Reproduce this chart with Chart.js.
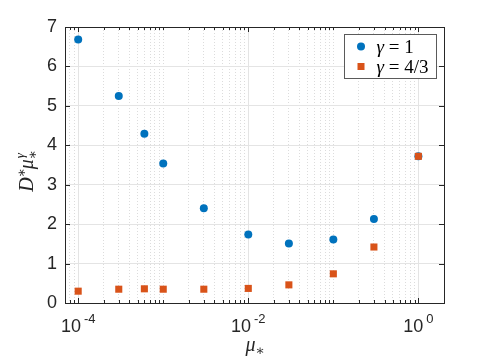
<!DOCTYPE html>
<html>
<head>
<meta charset="utf-8">
<script src="https://cdn.jsdelivr.net/npm/chart.js@4.4.1/dist/chart.umd.min.js"></script>
<style>
  body { margin: 0; background: #fff; }
  canvas { display: block; }
</style>
</head>
<body>
<canvas id="myChart" width="491" height="362"></canvas>
<script>
// values
var muValues = [1e-4, 3e-4, 6e-4, 1e-3, 3e-3, 1e-2, 3e-2, 1e-1, 3e-1, 1];
var gammaOne = [6.68, 5.25, 4.29, 3.54, 2.40, 1.74, 1.51, 1.61, 2.13, 3.72];
var gammaFourThirds = [0.30, 0.35, 0.36, 0.35, 0.35, 0.37, 0.46, 0.74, 1.42, 3.72];
var seriesNames = ['\u03b3 = 1', '\u03b3 = 4/3'];
var xMajorTicks = [1e-4, 1e-2, 1];
var xTickExponents = ['-4', '-2', '0'];
var yTicks = [0, 1, 2, 3, 4, 5, 6, 7];

var axisColor = '#262626';
var sansFont = "'Liberation Sans', Arial, sans-serif";
var serifFont = "'Liberation Serif', 'DejaVu Serif', serif";

function isMajor(v) {
    for (var i = 0; i < xMajorTicks.length; i++) {
        if (Math.abs(Math.log10(v) - Math.log10(xMajorTicks[i])) < 1e-6) return true;
    }
    return false;
}

function toPoints(xs, ys) {
    var pts = [];
    for (var i = 0; i < xs.length; i++) pts.push({x: xs[i], y: ys[i]});
    return pts;
}

// ticks, box, tick labels, axis titles and legend, MATLAB style
var decor = {
    id: 'decor',
    afterDatasetsDraw: function(chart) {
        var ctx = chart.ctx;
        var a = chart.chartArea;
        var xs = chart.scales.x, ys = chart.scales.y;
        ctx.save();

        // box
        ctx.strokeStyle = axisColor;
        ctx.lineWidth = 1;
        ctx.strokeRect(Math.round(a.left) + 0.5, Math.round(a.top) + 0.5,
            Math.round(a.right - a.left), Math.round(a.bottom - a.top));

        // inward ticks
        ctx.beginPath();
        xs.ticks.forEach(function(t) {
            var px = Math.round(xs.getPixelForValue(t.value)) + 0.5;
            var len = isMajor(t.value) ? 5 : 3;
            ctx.moveTo(px, a.bottom); ctx.lineTo(px, a.bottom - len);
            ctx.moveTo(px, a.top); ctx.lineTo(px, a.top + len);
        });
        yTicks.forEach(function(v) {
            var py = Math.round(ys.getPixelForValue(v)) + 0.5;
            ctx.moveTo(a.left, py); ctx.lineTo(a.left + 5, py);
            ctx.moveTo(a.right, py); ctx.lineTo(a.right - 5, py);
        });
        ctx.stroke();

        // x tick labels 10^n
        ctx.fillStyle = axisColor;
        ctx.textBaseline = 'alphabetic';
        ctx.textAlign = 'left';
        for (var i = 0; i < xMajorTicks.length; i++) {
            var px = xs.getPixelForValue(xMajorTicks[i]);
            ctx.font = '18px ' + sansFont;
            var wb = ctx.measureText('10').width;
            ctx.font = '13px ' + sansFont;
            var we = ctx.measureText(xTickExponents[i]).width;
            var x0 = px - (wb + 3 + we) / 2;
            ctx.font = '18px ' + sansFont;
            ctx.fillText('10', x0, a.bottom + 29);
            ctx.font = '13px ' + sansFont;
            ctx.fillText(xTickExponents[i], x0 + wb + 3, a.bottom + 20);
        }

        // x title: mu_*
        var cx = (a.left + a.right) / 2;
        ctx.font = 'italic 20px ' + serifFont;
        var wm = ctx.measureText('\u03bc').width;
        ctx.fillText('\u03bc', cx - wm / 2 - 4, a.bottom + 48);
        ctx.font = '14px ' + serifFont;
        ctx.fillText('\u2217', cx + wm / 2 - 4, a.bottom + 52);

        // y title: D^* mu_*^gamma
        ctx.save();
        ctx.translate(33, (a.top + a.bottom) / 2 + 6);
        ctx.rotate(-Math.PI / 2);
        ctx.font = 'italic 20px ' + serifFont;
        var wd = ctx.measureText('D').width;
        var total = wd + 8 + wm + 9;
        var x = -total / 2;
        ctx.fillText('D', x, 0);
        x += wd;
        ctx.font = '14px ' + serifFont;
        ctx.fillText('\u2217', x, -7);
        x += 8;
        ctx.font = 'italic 20px ' + serifFont;
        ctx.fillText('\u03bc', x, 0);
        x += wm;
        ctx.font = '14px ' + serifFont;
        ctx.fillText('\u2217', x, 4);
        ctx.font = 'italic 13px ' + serifFont;
        ctx.fillText('\u03b3', x + 1, -9);
        ctx.restore();

        // legend
        var lx = 344.5, ly = 34.5, lw = 92, lh = 44;
        ctx.fillStyle = '#fff';
        ctx.fillRect(lx, ly, lw, lh);
        ctx.strokeStyle = '#5a5a5a';
        ctx.strokeRect(lx, ly, lw, lh);
        chart.data.datasets.forEach(function(ds, k) {
            var rowY = ly + 12 + k * 20;
            ctx.fillStyle = ds.backgroundColor;
            if (ds.pointStyle === 'rect') {
                ctx.fillRect(lx + 13, rowY - 3.5, 7, 7);
            } else {
                ctx.beginPath();
                ctx.arc(lx + 16.5, rowY, 4, 0, Math.PI * 2);
                ctx.fill();
            }
            ctx.fillStyle = '#000';
            ctx.font = 'italic 19px ' + serifFont;
            var parts = ds.label.split(' ');
            ctx.fillText(parts[0], lx + 32, rowY + 6);
            var wg = ctx.measureText(parts[0]).width;
            ctx.font = '19px ' + serifFont;
            ctx.fillText(' ' + parts.slice(1).join(' '), lx + 32 + wg, rowY + 6);
        });

        ctx.restore();
    }
};

var myChart;

function init_chart() {
    var ctx = document.getElementById('myChart').getContext('2d');

    var data = {
        datasets: [{
            label: seriesNames[0],
            data: toPoints(muValues, gammaOne),
            backgroundColor: '#0072BD',
            borderColor: '#0072BD',
            pointStyle: 'circle',
            pointRadius: 4,
            borderWidth: 0,
            order: 2
        }, {
            label: seriesNames[1],
            data: toPoints(muValues, gammaFourThirds),
            backgroundColor: '#D95319',
            borderColor: '#D95319',
            pointStyle: 'rect',
            pointRadius: 5,
            borderWidth: 0,
            order: 1
        }]
    };

    var config = {
        type: 'scatter',
        data: data,
        plugins: [decor],
        options: {
            responsive: false,
            animation: false,
            layout: { padding: { left: 39, right: 47, top: 27, bottom: 59 } },
            plugins: { legend: { display: false }, tooltip: { enabled: false } },
            scales: {
                x: {
                    type: 'logarithmic',
                    min: 7e-5,
                    max: 2,
                    afterBuildTicks: function(scale) {
                        var ticks = [];
                        for (var e = -5; e <= 0; e++) {
                            for (var m = 1; m <= 9; m++) {
                                var v = m * Math.pow(10, e);
                                if (v >= 7.9e-5 && v <= 2.01) ticks.push({value: v});
                            }
                        }
                        scale.ticks = ticks;
                    },
                    ticks: { display: false },
                    grid: {
                        drawTicks: false,
                        color: function(c) { return c.tick && isMajor(c.tick.value) ? '#e4e4e4' : '#dcdcdc'; }
                    },
                    border: {
                        color: axisColor,
                        dash: function(c) { return c.tick && !isMajor(c.tick.value) ? [1, 2] : []; }
                    }
                },
                y: {
                    min: 0,
                    max: 7,
                    afterBuildTicks: function(scale) {
                        scale.ticks = yTicks.map(function(v) { return {value: v}; });
                    },
                    ticks: {
                        color: axisColor,
                        font: { family: sansFont, size: 18 },
                        padding: 8
                    },
                    grid: { drawTicks: false, color: '#e4e4e4' },
                    border: { color: axisColor }
                }
            }
        }
    };

    myChart = new Chart(ctx, config);
}

init_chart();
</script>
</body>
</html>
